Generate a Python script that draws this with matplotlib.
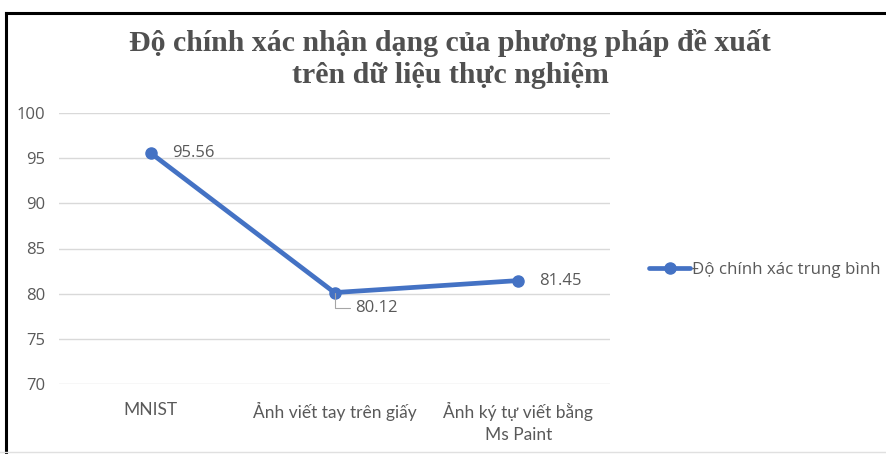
import matplotlib
matplotlib.use("Agg")
from matplotlib import pyplot as plt
from matplotlib.lines import Line2D

# Dữ liệu
categories = ["MNIST", "Ảnh viết tay trên giấy", "Ảnh ký tự viết bằng\nMs Paint"]
accuracy = [95.56, 80.12, 81.45]
series_name = "Độ chính xác trung bình"
title = "Độ chính xác nhận dạng của phương pháp đề xuất\ntrên dữ liệu thực nghiệm"
yticks = [70, 75, 80, 85, 90, 95, 100]

blue = "#4472C4"
grey = "#595959"

fig = plt.figure(figsize=(8.86, 4.54), dpi=100)
ax = fig.add_axes([59 / 886, 1 - 384 / 454, 551 / 886, 271 / 454])

x = list(range(len(categories)))
ax.plot(x, accuracy, color=blue, lw=3.4, marker="o", markersize=8, solid_capstyle="round",
        label=series_name, zorder=3)

ax.set_xlim(-0.5, len(categories) - 0.5)
ax.set_ylim(70, 100)
ax.set_yticks(yticks)
ax.set_xticks(x)
ax.set_xticklabels(categories, family="Lato", fontsize=12.5, color=grey, linespacing=1.45)
for lbl in ax.get_yticklabels():
    lbl.set_family("Open Sans")
    lbl.set_fontsize(12)
    lbl.set_color(grey)
ax.tick_params(length=0, pad=10)
ax.tick_params(axis="x", pad=13)
ax.grid(axis="y", color="#d9d9d9", lw=1)
ax.set_axisbelow(True)
for s in ax.spines.values():
    s.set_visible(False)

# Nhãn giá trị
font_lbl = dict(family="Open Sans", fontsize=12, color=grey, va="center")
ax.annotate(f"{accuracy[0]:.2f}", (x[0], accuracy[0]), xytext=(15, 0),
            textcoords="offset points", **font_lbl)
ax.annotate(f"{accuracy[2]:.2f}", (x[2], accuracy[2]), xytext=(15, 0),
            textcoords="offset points", **font_lbl)
ax.annotate(f"{accuracy[1]:.2f}", (x[1], accuracy[1]), xytext=(15, -11),
            textcoords="offset points", **font_lbl,
            arrowprops=dict(arrowstyle="-", color="#a6a6a6", lw=0.8,
                            connectionstyle="angle,angleA=0,angleB=90,rad=0",
                            shrinkA=2, shrinkB=0))

leg = fig.legend(loc="center left", bbox_to_anchor=(634 / 886, 1 - 270 / 454), frameon=False,
                 handlelength=2.4, handletextpad=0.1,
                 prop={"family": "Open Sans", "size": 12.2})
for t in leg.get_texts():
    t.set_color(grey)

fig.text(0.508, 1 - 59 / 454, title, ha="center", va="center", family="Liberation Serif",
         weight="bold", fontsize=21.5, color="#505050", linespacing=1.22)

# Khung
fig.add_artist(Line2D([6 / 886, 1], [1 - 13 / 454] * 2, color="black", lw=2.2))
fig.add_artist(Line2D([6 / 886] * 2, [0, 1 - 13 / 454], color="black", lw=2.2))
fig.add_artist(Line2D([0, 1], [1 - 452 / 454] * 2, color="#e0e0e0", lw=1))

fig.savefig("out.png", dpi=100)
